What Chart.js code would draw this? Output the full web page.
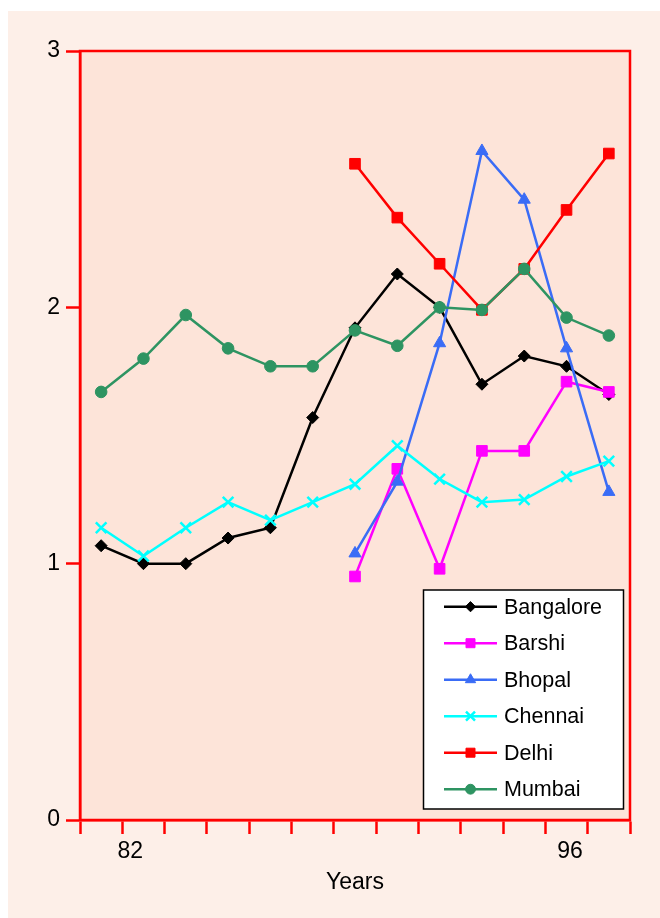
<!DOCTYPE html>
<html>
<head>
<meta charset="utf-8">
<script src="https://cdn.jsdelivr.net/npm/chart.js@4.4.1/dist/chart.umd.min.js"></script>
<style>
  html, body { margin: 0; padding: 0; background: #ffffff; }
  #wrap { width: 660px; height: 918px; }
</style>
</head>
<body>
<div id="wrap"><canvas id="c" width="660" height="918"></canvas></div>
<script>
// ---- Data ----
const categories = ['1','2','3','4','5','6','7','8','9','10','11','12','13'];
const seriesNames = ['Bangalore', 'Barshi', 'Bhopal', 'Chennai', 'Delhi', 'Mumbai'];
const bangalore = [1.07, 1.00, 1.00, 1.10, 1.14, 1.57, 1.92, 2.13, 2.00, 1.70, 1.81, 1.77, 1.66];
const barshi    = [null, null, null, null, null, null, 0.95, 1.37, 0.98, 1.44, 1.44, 1.71, 1.67];
const bhopal    = [null, null, null, null, null, null, 1.04, 1.32, 1.86, 2.61, 2.42, 1.84, 1.28];
const chennai   = [1.14, 1.03, 1.14, 1.24, 1.17, 1.24, 1.31, 1.46, 1.33, 1.24, 1.25, 1.34, 1.40];
const delhi     = [null, null, null, null, null, null, 2.56, 2.35, 2.17, 1.99, 2.15, 2.38, 2.60];
const mumbai    = [1.67, 1.80, 1.97, 1.84, 1.77, 1.77, 1.91, 1.85, 2.00, 1.99, 2.15, 1.96, 1.89];
const xTickLabels = ['82', '96'];
const yTickLabels = ['0', '1', '2', '3'];
const xTitle = 'Years';

// ---- Styling ----
const FONT = '"Liberation Sans", Arial, Helvetica, sans-serif';
const RED = '#ff0000';
const xLabelAt = [1.19, 11.58]; // positions of the year labels along the 13-slot axis
const styles = [
  { color: '#000000', pointStyle: 'rectRot',  radius: 6,   order: 5 },
  { color: '#ff00ff', pointStyle: 'rect',     radius: 7.5, order: 4 },
  { color: '#3a6cf6', pointStyle: 'triangle', radius: 7,   order: 3 },
  { color: '#00ffff', pointStyle: 'crossRot', radius: 7.5, order: 2 },
  { color: '#ff0000', pointStyle: 'rect',     radius: 7.5, order: 1 },
  { color: '#2e9462', pointStyle: 'circle',   radius: 5.8, order: 0 }
];
const seriesValues = [bangalore, barshi, bhopal, chennai, delhi, mumbai];

const datasets = seriesNames.map((name, i) => ({
  label: name,
  data: seriesValues[i].map((v, j) => ({ x: j + 0.5, y: v })),
  borderColor: styles[i].color,
  backgroundColor: styles[i].color,
  pointBackgroundColor: styles[i].color,
  pointBorderColor: styles[i].color,
  pointStyle: styles[i].pointStyle,
  pointRadius: styles[i].radius,
  pointHoverRadius: styles[i].radius,
  pointBorderWidth: styles[i].pointStyle === 'crossRot' ? 2.5 : 1,
  borderWidth: 2.5,
  tension: 0,
  spanGaps: false,
  order: styles[i].order
}));

function drawMarker(ctx, st, x, y) {
  ctx.save();
  ctx.fillStyle = st.color;
  ctx.strokeStyle = st.color;
  ctx.lineWidth = st.pointStyle === 'crossRot' ? 2.5 : 1;
  if (Chart.helpers && Chart.helpers.drawPoint) {
    Chart.helpers.drawPoint(ctx, { pointStyle: st.pointStyle, radius: st.radius, rotation: 0, borderWidth: ctx.lineWidth }, x, y);
  }
  ctx.restore();
}

const decorPlugin = {
  id: 'decor',
  beforeDraw(chart) {
    const { ctx, chartArea: a } = chart;
    ctx.save();
    ctx.fillStyle = '#ffffff';
    ctx.fillRect(0, 0, chart.width, chart.height);
    ctx.fillStyle = '#fdefe8';
    ctx.fillRect(8, 11, chart.width - 8, chart.height - 11);
    ctx.fillStyle = '#fde4d9';
    ctx.fillRect(a.left, a.top, a.right - a.left, a.bottom - a.top);
    ctx.restore();
  },
  afterDatasetsDraw(chart) {
    const { ctx, chartArea: a } = chart;
    ctx.save();
    ctx.strokeStyle = RED;
    ctx.lineWidth = 2.5;
    ctx.strokeRect(a.left, a.top, a.right - a.left, a.bottom - a.top);
    ctx.restore();
  },
  afterDraw(chart) {
    const { ctx } = chart;
    const bx = 423.5, by = 590, bw = 200, bh = 219;
    ctx.save();
    ctx.fillStyle = '#ffffff';
    ctx.fillRect(bx, by, bw, bh);
    ctx.strokeStyle = '#000000';
    ctx.lineWidth = 1.5;
    ctx.strokeRect(bx, by, bw, bh);
    ctx.font = '21.5px ' + FONT;
    ctx.textBaseline = 'middle';
    ctx.textAlign = 'left';
    seriesNames.forEach((name, i) => {
      const y = 606.7 + i * 36.5;
      const st = styles[i];
      ctx.strokeStyle = st.color;
      ctx.lineWidth = 2.5;
      ctx.beginPath();
      ctx.moveTo(444, y);
      ctx.lineTo(497, y);
      ctx.stroke();
      drawMarker(ctx, { color: st.color, pointStyle: st.pointStyle, radius: st.radius * 0.85 }, 470.5, y);
      ctx.fillStyle = '#000000';
      ctx.fillText(name, 504, y + 1);
    });
    ctx.restore();
  }
};

const chart = new Chart(document.getElementById('c'), {
  type: 'line',
  data: { datasets },
  options: {
    responsive: false,
    animation: false,
    devicePixelRatio: 1,
    layout: { padding: { left: 0, top: 51, right: 30, bottom: 0 } },
    plugins: {
      legend: { display: false },
      tooltip: { enabled: false },
      title: { display: false }
    },
    scales: {
      x: {
        type: 'linear',
        min: 0,
        max: categories.length,
        afterBuildTicks(scale) {
          const t = categories.map((c, i) => ({ value: i }));
          t.push({ value: categories.length });
          xLabelAt.forEach(v => t.push({ value: v }));
          t.sort((p, q) => p.value - q.value);
          scale.ticks = t;
        },
        afterFit(scale) { scale.height = 98; },
        ticks: {
          autoSkip: false,
          maxRotation: 0,
          padding: 4,
          color: '#000000',
          font: { family: FONT, size: 23 },
          callback(value) {
            const k = xLabelAt.indexOf(value);
            return k >= 0 ? xTickLabels[k] : '';
          }
        },
        grid: {
          drawOnChartArea: false,
          drawTicks: true,
          tickLength: 14,
          tickWidth: 2.5,
          tickColor(ctx) {
            return (ctx.tick && Number.isInteger(ctx.tick.value)) ? RED : 'rgba(0,0,0,0)';
          }
        },
        border: { display: true, color: RED, width: 2.5 },
        title: {
          display: true,
          text: xTitle,
          color: '#000000',
          font: { family: FONT, size: 23 },
          padding: { top: 0, bottom: 22 }
        }
      },
      y: {
        type: 'linear',
        min: 0,
        max: 3,
        afterFit(scale) { scale.width = 80; },
        ticks: {
          stepSize: 1,
          padding: 6,
          color: '#000000',
          font: { family: FONT, size: 23 },
          callback(value) {
            return Number.isInteger(value) ? yTickLabels[value] : '';
          }
        },
        grid: {
          drawOnChartArea: false,
          drawTicks: true,
          tickLength: 14,
          tickWidth: 2.5,
          tickColor: RED
        },
        border: { display: true, color: RED, width: 2.5 }
      }
    }
  },
  plugins: [decorPlugin]
});
</script>
</body>
</html>
